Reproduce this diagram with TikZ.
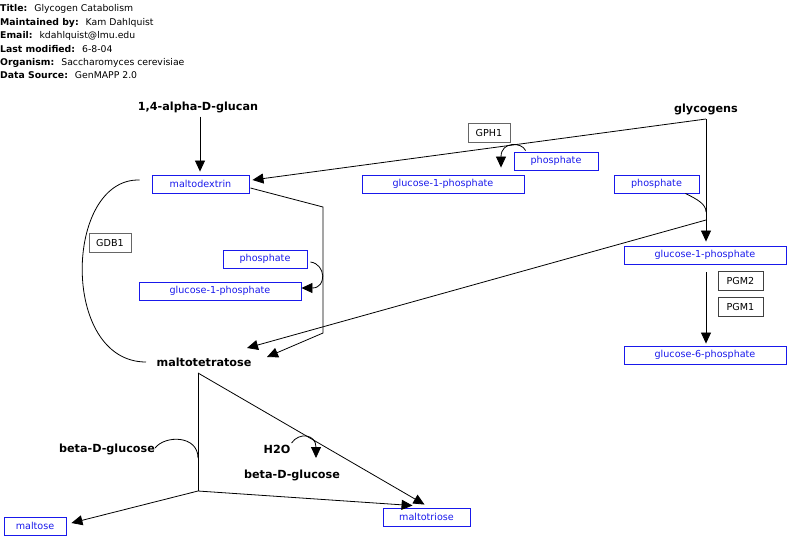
\documentclass[tikz,border=0pt]{standalone}
\usepackage{fontspec}
\setmainfont{DejaVu Sans}
\usetikzlibrary{arrows.meta,calc}
\definecolor{molblue}{RGB}{25,25,235}
\begin{document}
\begin{tikzpicture}[x=1pt,y=-1pt,
  hdr/.style={anchor=west, font=\fontsize{9.3}{10}\selectfont, inner sep=0pt},
  mol/.style={draw=molblue, text=molblue, font=\fontsize{9.6}{10}\selectfont, minimum height=18pt, inner sep=0pt, line width=0.9pt},
  gene/.style={draw=black!75, font=\fontsize{9.6}{10}\selectfont, minimum height=19pt, minimum width=44pt, inner sep=0pt, line width=0.8pt},
  lbl/.style={font=\bfseries\fontsize{11.2}{12}\selectfont, inner sep=0pt},
  conn/.style={line width=0.8pt},
  arr/.style={conn, -{Triangle[length=11pt,width=10pt]}}]
\useasboundingbox (0,0) rectangle (800,550);

% header
\node[hdr] (h1) at (0,9) {\textbf{Title:}\hspace{7pt}Glycogen Catabolism};
\node[hdr] (h2) at (0,22.5) {\textbf{Maintained by:}\hspace{7pt}Kam Dahlquist};
\node[hdr] (h3) at (0,36) {\textbf{Email:}\hspace{7pt}kdahlquist@lmu.edu};
\node[hdr] (h4) at (0,49) {\textbf{Last modified:}\hspace{7pt}6-8-04};
\node[hdr] (h5) at (0,62.5) {\textbf{Organism:}\hspace{7pt}Saccharomyces cerevisiae};
\node[hdr] (h6) at (0,75.5) {\textbf{Data Source:}\hspace{7pt}GenMAPP 2.0};

% labels
\node[lbl] (glucan) at (198,107) {1,4-alpha-D-glucan};
\node[lbl] (glycogens) at (706,109) {glycogens};
\node[lbl] (maltotetratose) at (204,362) {maltotetratose};
\node[lbl] (bdgL) at (107,449) {beta-D-glucose};
\node[lbl] (h2o) at (277,449) {H2O};
\node[lbl] (bdgR) at (292,475) {beta-D-glucose};

% genes
\node[gene, minimum width=42pt, draw=black!60] (gph1) at (489,132.5) {GPH1};
\node[gene, minimum width=42pt, draw=black!60] (gdb1) at (110,242.5) {GDB1};
\node[gene, minimum width=45pt] (pgm2) at (740.5,280.5) {PGM2};
\node[gene, minimum width=45pt] (pgm1) at (740.5,306.5) {PGM1};

% molecules
\node[mol, minimum width=84pt] (phosM) at (556,161) {phosphate};
\node[mol, minimum width=162pt] (g1pM) at (443,184) {glucose-1-phosphate};
\node[mol, minimum width=85pt] (phosR) at (656.5,184) {phosphate};
\node[mol, minimum width=97pt] (maltodextrin) at (200.5,184) {maltodextrin};
\node[mol, minimum width=84pt] (phosL) at (265,259) {phosphate};
\node[mol, minimum width=162pt] (g1pL) at (220,291) {glucose-1-phosphate};
\node[mol, minimum width=162pt] (g1pR) at (705,255) {glucose-1-phosphate};
\node[mol, minimum width=162pt] (g6p) at (705,355) {glucose-6-phosphate};
\node[mol, minimum width=62pt] (maltose) at (35,526) {maltose};
\node[mol, minimum width=87pt] (maltotriose) at (426.5,517) {maltotriose};

% connectors
\draw[arr] ($(glucan.south)+(2,4)$) -- ($(maltodextrin.north)+(-0.5,-3)$);

\coordinate (gtop) at (706,119);
\coordinate (gbr) at (706,220);
\draw[arr] (gtop) -- ($(g1pR.north)+(1,-4)$);
\draw[arr] (gtop) -- ($(maltodextrin.east)+(3,-4)$);
\draw[arr] ($(phosM.north west)+(12,-1)$) .. controls (522,142) and (501,141) .. ($(g1pM.north)+(58,-7)$);
\draw[conn] ($(phosR.south east)+(-14,0)$) .. controls +(12,6) and +(0,-8) .. (706,212);
\draw[arr] (gbr) -- ($(maltotetratose.center)+(43,-14)$);

\coordinate (c1) at (323,207);
\coordinate (c2) at (323,333);
\draw[arr] ($(maltodextrin.east)+(1,4)$) -- (c1) -- (c2) -- ($(maltotetratose.center)+(63,-5)$);
\draw[arr] ($(phosL.east)+(3,3)$) .. controls (326,264) and (327,288) .. ($(g1pL.east)+(0,-3)$);

\draw[conn] ($(maltodextrin.west)+(-12,-4)$) .. controls (64,178) and (60,362) .. ($(maltotetratose.center)+(-58,0)$);

\draw[arr] ($(g1pR.south)+(1,8)$) -- ($(g6p.north)+(1,-2)$);

\coordinate (mt) at (198,373);
\coordinate (mb) at (198,491);
\draw[conn] (mt) -- (mb);
\draw[arr] (mt) -- ($(maltotriose.north)+(-2,-3)$);
\draw[arr] (mb) -- ($(maltose.east)+(5,-3)$);
\draw[arr] (mb) -- ($(maltotriose.north west)+(30,-2)$);
\draw[conn] ($(bdgL.east)+(0,-1)$) .. controls (165,435) and (198,435) .. (198,458);
\draw[arr] ($(h2o.east)+(1,-6)$) .. controls (299,432) and (316,434) .. (316,458);
\end{tikzpicture}
\end{document}
